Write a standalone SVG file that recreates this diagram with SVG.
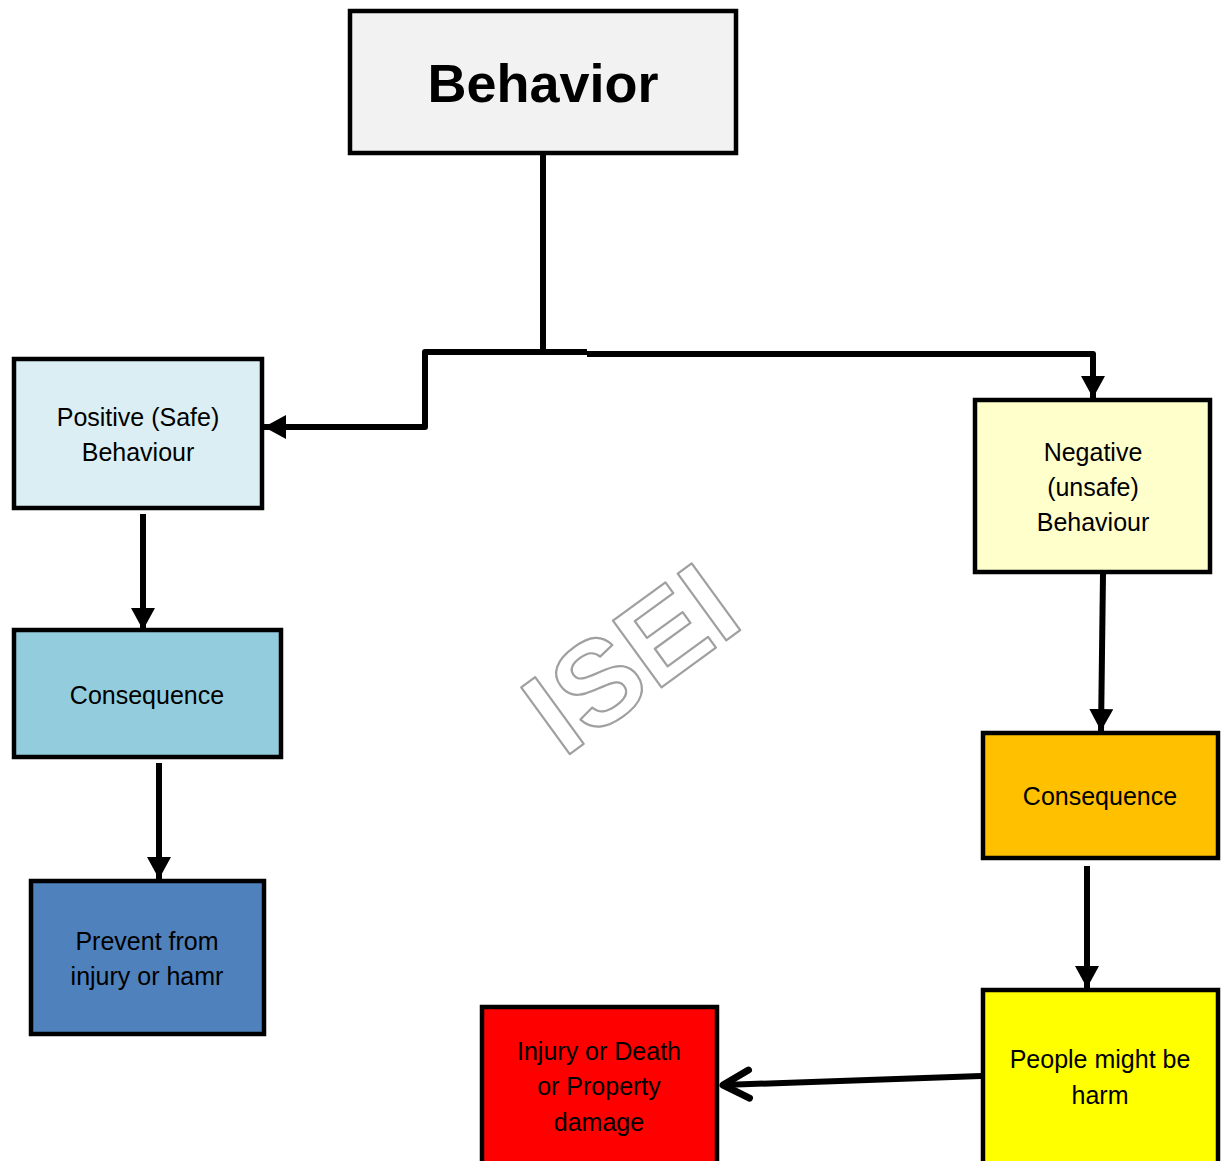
<svg xmlns="http://www.w3.org/2000/svg" width="1222" height="1161" viewBox="0 0 1222 1161">
<style>
.box{stroke:#000;stroke-width:4.5}
.t{font-family:"Liberation Sans",Arial,sans-serif;font-size:25px;fill:#000;text-anchor:middle}
.c{fill:none;stroke:#000;stroke-width:6;stroke-linejoin:round}
</style>
<defs>
<marker id="tri" markerUnits="userSpaceOnUse" markerWidth="24" markerHeight="24" refX="22" refY="12" orient="auto">
<path d="M0,0 L22,12 L0,24 Z" fill="#000"/>
</marker>
<marker id="open" markerUnits="userSpaceOnUse" markerWidth="40" markerHeight="40" refX="36" refY="20" orient="auto">
<path d="M10,6 L36,20 L10,34" fill="none" stroke="#000" stroke-width="7" stroke-linecap="round" stroke-linejoin="round"/>
</marker>
</defs>
<rect width="1222" height="1161" fill="#fff"/>
<g id="watermark">
<text x="0" y="0" transform="translate(655,692) rotate(-36)" font-family="Liberation Sans,Arial,sans-serif" font-weight="bold" font-size="120" text-anchor="middle" fill="#fff" stroke="#a0a0a0" stroke-width="2.2" stroke-linejoin="round">ISEI</text>
</g>
<g id="behavior">
<rect class="box" x="350" y="11" width="386" height="142" fill="#f2f2f2"/>
<text x="543" y="102" font-family="Liberation Sans,Arial,sans-serif" font-weight="bold" font-size="54" text-anchor="middle">Behavior</text>
</g>
<g id="positive">
<rect class="box" x="14" y="359" width="248" height="149" fill="#daeef3"/>
<text class="t" x="138" y="426">Positive (Safe)</text>
<text class="t" x="138" y="461">Behaviour</text>
</g>
<g id="consequence-pos">
<rect class="box" x="14" y="630" width="267" height="127" fill="#93cddd"/>
<text class="t" x="147" y="704">Consequence</text>
</g>
<g id="prevent">
<rect class="box" x="31" y="881" width="233" height="153" fill="#4f81bd"/>
<text class="t" x="147" y="950">Prevent from</text>
<text class="t" x="147" y="985">injury or hamr</text>
</g>
<g id="negative">
<rect class="box" x="975" y="400" width="235" height="172" fill="#ffffcc"/>
<text class="t" x="1093" y="461">Negative</text>
<text class="t" x="1093" y="496">(unsafe)</text>
<text class="t" x="1093" y="531">Behaviour</text>
</g>
<g id="consequence-neg">
<rect class="box" x="983" y="733" width="235" height="125" fill="#ffc000"/>
<text class="t" x="1100" y="805">Consequence</text>
</g>
<g id="people">
<rect class="box" x="983" y="990" width="235" height="176" fill="#ffff00"/>
<text class="t" x="1100" y="1068">People might be</text>
<text class="t" x="1100" y="1104">harm</text>
</g>
<g id="injury">
<rect class="box" x="482" y="1007" width="235" height="160" fill="#ff0000"/>
<text class="t" x="599" y="1060">Injury or Death</text>
<text class="t" x="599" y="1095">or Property</text>
<text class="t" x="599" y="1131">damage</text>
</g>
<g id="connectors">
<path class="c" d="M543,153 L543,350"/>
<path class="c" d="M587,352 L425,352 L425,427 L264,427" marker-end="url(#tri)"/>
<path class="c" d="M587,354 L1093,354 L1093,398" marker-end="url(#tri)"/>
<path class="c" d="M143,514 L143,630" marker-end="url(#tri)"/>
<path class="c" d="M159,763 L159,879" marker-end="url(#tri)"/>
<path class="c" d="M1103,574 L1101,731" marker-end="url(#tri)"/>
<path class="c" d="M1087,866 L1087,988" marker-end="url(#tri)"/>
<path class="c" d="M981,1076 L723,1085" marker-end="url(#open)"/>
</g>
</svg>
